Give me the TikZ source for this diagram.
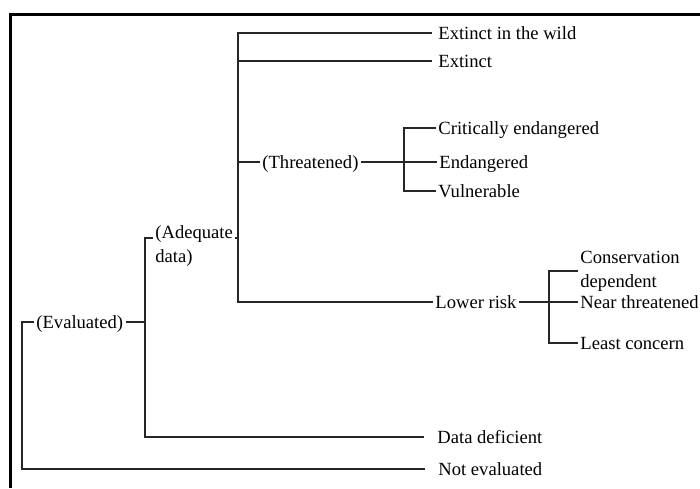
\documentclass[tikz,border=0pt]{standalone}
\usepackage{fontspec}
\setmainfont{Liberation Serif}
\begin{document}
\begin{tikzpicture}[x=0.5pt, y=-0.5pt, font=\fontsize{9.3}{12}\selectfont,
    lbl/.style={anchor=west, inner sep=1pt, text height=7pt, text depth=1pt},
    twoline/.style={anchor=west, inner sep=1pt, align=left},
    br/.style={line width=0.75pt, black!85}]
  \useasboundingbox (0,0) rectangle (700,488);
  \draw[line width=1.5pt] (700,14) -- (10,14) -- (10,488);
  % labels
  \node[lbl] (eval) at (34,322) {(Evaluated)};
  \node[twoline, anchor=north west] (adq) at (153,223) {(Adequate\\data)};
  \node[lbl] (threat) at (260,162) {(Threatened)};
  \node[lbl] (ewild) at (436,33) {Extinct in the wild};
  \node[lbl] (ext) at (436,61) {Extinct};
  \node[lbl] (crit) at (436,128) {Critically endangered};
  \node[lbl] (endang) at (437,162) {Endangered};
  \node[lbl] (vuln) at (436,191) {Vulnerable};
  \node[lbl] (lowrisk) at (433,302) {Lower risk};
  \node[twoline] (cons) at (578,271) {Conservation\\dependent};
  \node[lbl] (near) at (578,302) {Near threatened};
  \node[lbl] (least) at (578,343) {Least concern};
  \node[lbl] (datad) at (435,437) {Data deficient};
  \node[lbl] (noteval) at (436,469) {Not evaluated};
  % bracket corners
  \coordinate (r0) at (22,322);
  \coordinate (r1) at (22,469);
  \coordinate (b1) at (145,238);
  \coordinate (b2) at (145,437);
  \coordinate (a1) at (238,33);
  \coordinate (a2) at (238,302);
  \coordinate (t1) at (404,128);
  \coordinate (t2) at (404,191);
  \coordinate (c1) at (549,271);
  \coordinate (c2) at (549,343);
  % evaluated
  \draw[br, shorten >=5.5pt] (eval.west) -- (r0) -- (r1) -- (noteval.west);
  \draw[br] (eval.east) -- (b1 |- eval.east);
  % adequate data
  \draw[br, shorten >=5.5pt] (adq.west |- b1) -- (b1) -- (b2) -- (datad.west);
  \draw[br] (adq.east |- b1) -- (a1 |- b1);
  % extinct, threatened, lower risk
  \draw[br, shorten <=2pt] (ewild.west) -- (a1) -- (a2) -- (lowrisk.west);
  \draw[br, shorten >=2pt] (a1 |- ext.west) -- (ext.west);
  \draw[br] (a1 |- threat.west) -- (threat.west);
  \draw[br] (threat.east) -- (endang.west);
  \draw[br] (crit.west) -- (t1) -- (t2) -- (vuln.west);
  \draw[br] (lowrisk.east) -- (near.west);
  \draw[br] (cons.west) -- (c1) -- (c2) -- (least.west);
\end{tikzpicture}
\end{document}
